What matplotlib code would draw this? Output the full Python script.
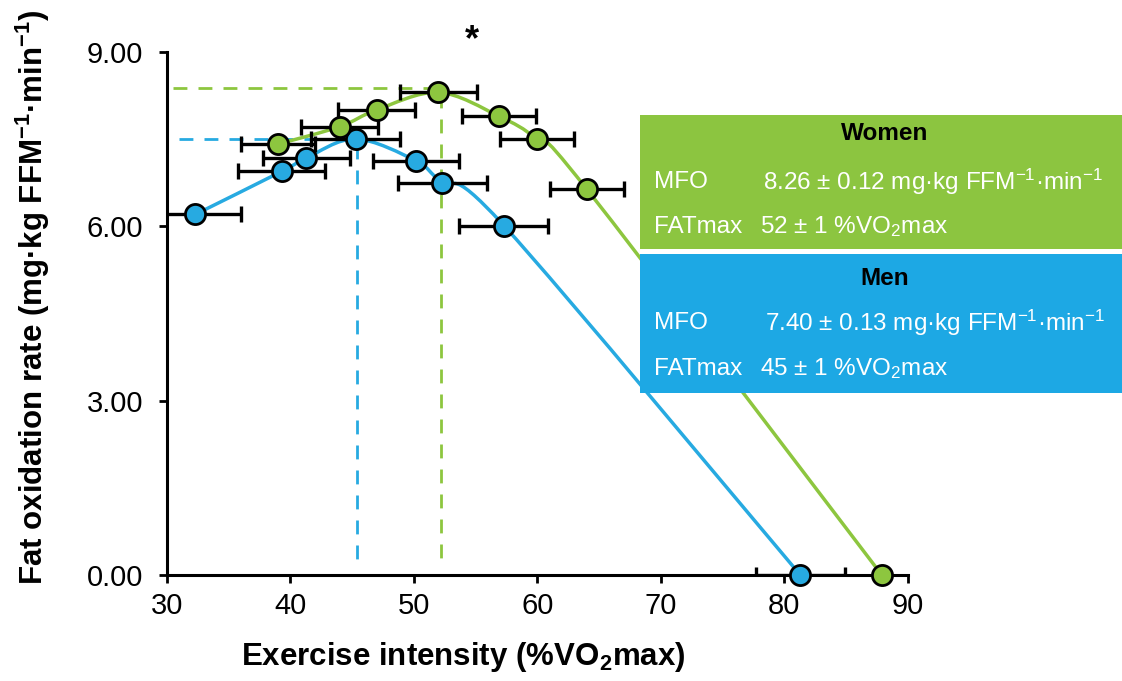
import matplotlib
matplotlib.use("Agg")
import matplotlib.pyplot as plt
from matplotlib.path import Path
from matplotlib.patches import PathPatch, Rectangle

plt.rcParams['font.family'] = ['Liberation Sans', 'DejaVu Sans']
plt.rcParams['mathtext.default'] = 'regular'

# values
men_x = [32.3, 39.3, 41.3, 45.3, 50.2, 52.3, 57.3, 81.3]
men_y = [6.20, 6.94, 7.17, 7.50, 7.12, 6.75, 6.01, 0.00]
men_xerr = [3.7, 3.5, 3.5, 3.6, 3.5, 3.6, 3.6, 3.6]

women_x = [39.0, 44.0, 47.0, 52.0, 56.9, 60.0, 64.0, 87.9]
women_y = [7.41, 7.71, 8.00, 8.30, 7.89, 7.49, 6.64, 0.00]
women_xerr = [3.0, 3.1, 3.1, 3.1, 3.0, 3.0, 3.0, 0.0]

fatmax_men, mfo_men = 45.4, 7.50
fatmax_women, mfo_women = 52.2, 8.37

x_ticks = [30, 40, 50, 60, 70, 80, 90]
y_ticks = [0, 3, 6, 9]

green = '#8DC63F'
blue = '#27AAE1'
box_green = '#8CC540'
box_blue = '#1DA8E4'


def smooth_path(xs, ys):
    # excel-like smoothed line through the points (catmull-rom as bezier)
    pts = list(zip(xs, ys))
    verts = [pts[0]]
    codes = [Path.MOVETO]
    n = len(pts)
    for i in range(n - 1):
        p0 = pts[i - 1] if i > 0 else pts[i]
        p1 = pts[i]
        p2 = pts[i + 1]
        p3 = pts[i + 2] if i + 2 < n else pts[i + 1]
        c1 = (p1[0] + (p2[0] - p0[0]) / 6, p1[1] + (p2[1] - p0[1]) / 6)
        c2 = (p2[0] - (p3[0] - p1[0]) / 6, p2[1] - (p3[1] - p1[1]) / 6)
        verts += [c1, c2, p2]
        codes += [Path.CURVE4] * 3
    return Path(verts, codes)


fig = plt.figure(figsize=(11.22, 6.81), dpi=100)
ax = fig.add_axes([0.1486, 0.1557, 0.6604, 0.7684])

# dashed guide lines
dash = dict(lw=2, dashes=(5, 4), zorder=1)
ax.plot([30.5, fatmax_women], [mfo_women, mfo_women], color=green, **dash)
ax.plot([fatmax_women, fatmax_women], [mfo_women - 0.1, 0.2], color=green, **dash)
ax.plot([31.0, fatmax_men], [mfo_men, mfo_men], color=blue, **dash)
ax.plot([fatmax_men, fatmax_men], [mfo_men - 0.1, 0.2], color=blue, **dash)

# curves
ax.add_patch(PathPatch(smooth_path(men_x, men_y), fill=False, edgecolor=blue,
                       lw=2.5, zorder=2))
ax.add_patch(PathPatch(smooth_path(women_x, women_y), fill=False,
                       edgecolor=green, lw=2.5, zorder=2))

# error bars
for xs, ys, xe in [(men_x, men_y, men_xerr), (women_x, women_y, women_xerr)]:
    ax.errorbar(xs, ys, xerr=xe, fmt='none', ecolor='black', elinewidth=2.4,
                capsize=5.5, capthick=2.4, zorder=3)

# markers
ax.plot(men_x, men_y, 'o', ms=14.5, mfc=blue, mec='black', mew=2,
        zorder=5, clip_on=False)
ax.plot(women_x, women_y, 'o', ms=14.5, mfc=green, mec='black', mew=2,
        zorder=5, clip_on=False)

ax.set_xlim(30, 90)
ax.set_ylim(0, 9)
ax.set_xticks(x_ticks)
ax.set_yticks(y_ticks)
ax.set_yticklabels(['%.2f' % v for v in y_ticks])
for s in ['top', 'right']:
    ax.spines[s].set_visible(False)
for s in ['left', 'bottom']:
    ax.spines[s].set_linewidth(2.2)
ax.tick_params(axis='both', direction='out', length=6, width=2,
               labelsize=21, colors='black')
ax.tick_params(axis='x', pad=6)
ax.tick_params(axis='y', pad=11)

ax.set_xlabel('Exercise intensity (%VO$_2$max)', fontsize=22.5,
              fontweight='bold')
ax.xaxis.set_label_coords(0.4, -0.125)
ax.set_ylabel('Fat oxidation rate (mg·kg FFM$^{-1}$·min$^{-1}$)',
              fontsize=22.5, fontweight='bold')
ax.yaxis.set_label_coords(-0.155, 0.53)

ax.text(54.7, 9.02, '*', fontsize=26, fontweight='bold', ha='center',
        va='baseline', clip_on=False)

# info boxes
W, H = 1122, 681
fig.add_artist(Rectangle((640 / W, 1 - 249 / H), (W - 640) / W, 134 / H,
                         transform=fig.transFigure, facecolor=box_green,
                         edgecolor='none', zorder=2))
fig.add_artist(Rectangle((640 / W, 1 - 393 / H), (W - 640) / W, 139 / H,
                         transform=fig.transFigure, facecolor=box_blue,
                         edgecolor='none', zorder=2))


def ftext(px, py, s, **kw):
    fig.text(px / W, 1 - py / H, s, va='center', zorder=4, **kw)


ftext(885, 134, 'Women', ha='center', fontsize=17.5, fontweight='bold', color='black')
ftext(654, 182, 'MFO', ha='left', fontsize=17.5, color='white')
ftext(763, 182, '8.26 ± 0.12 mg·kg FFM$^{-1}$·min$^{-1}$', ha='left',
      fontsize=17.5, color='white')
ftext(654, 227, 'FATmax', ha='left', fontsize=17.5, color='white')
ftext(760, 227, '52 ± 1 %VO$_2$max', ha='left', fontsize=17.5, color='white')

ftext(885, 278, 'Men', ha='center', fontsize=17.5, fontweight='bold', color='black')
ftext(654, 323, 'MFO', ha='left', fontsize=17.5, color='white')
ftext(765, 323, '7.40 ± 0.13 mg·kg FFM$^{-1}$·min$^{-1}$', ha='left',
      fontsize=17.5, color='white')
ftext(654, 369, 'FATmax', ha='left', fontsize=17.5, color='white')
ftext(760, 369, '45 ± 1 %VO$_2$max', ha='left', fontsize=17.5, color='white')

fig.savefig('out.png', dpi=100)
